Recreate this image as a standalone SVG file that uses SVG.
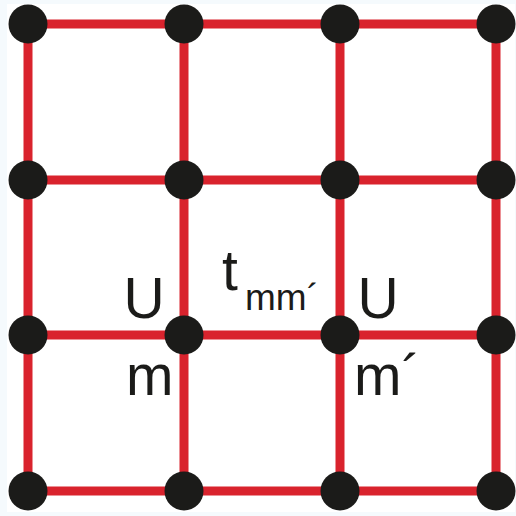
<svg xmlns="http://www.w3.org/2000/svg" width="516" height="516" viewBox="0 0 516 516">
<style>
.e{stroke:#d9232d;stroke-width:9;fill:none}
.n{fill:#1b1b19}
.t{font-family:"Liberation Sans",Arial,sans-serif;fill:#1b1b19}
</style>
<rect width="516" height="516" fill="#f5fafd"/>
<rect x="7" y="4" width="508" height="508" fill="#ffffff"/>
<g id="connectors">
<path class="e" d="M28,24H496M28,180H496M28,335H496M28,491H496M28,24V491M184,24V491M340,24V491M496,24V491"/>
</g>
<g id="n11"><circle class="n" cx="28" cy="24" r="19.5"/></g>
<g id="n12"><circle class="n" cx="184" cy="24" r="19.5"/></g>
<g id="n13"><circle class="n" cx="340" cy="24" r="19.5"/></g>
<g id="n14"><circle class="n" cx="496" cy="24" r="19.5"/></g>
<g id="n21"><circle class="n" cx="28" cy="180" r="19.5"/></g>
<g id="n22"><circle class="n" cx="184" cy="180" r="19.5"/></g>
<g id="n23"><circle class="n" cx="340" cy="180" r="19.5"/></g>
<g id="n24"><circle class="n" cx="496" cy="180" r="19.5"/></g>
<g id="n31"><circle class="n" cx="28" cy="335" r="19.5"/></g>
<g id="n32"><circle class="n" cx="184" cy="335" r="19.5"/></g>
<g id="n33"><circle class="n" cx="340" cy="335" r="19.5"/></g>
<g id="n34"><circle class="n" cx="496" cy="335" r="19.5"/></g>
<g id="n41"><circle class="n" cx="28" cy="491" r="19.5"/></g>
<g id="n42"><circle class="n" cx="184" cy="491" r="19.5"/></g>
<g id="n43"><circle class="n" cx="340" cy="491" r="19.5"/></g>
<g id="n44"><circle class="n" cx="496" cy="491" r="19.5"/></g>
<g id="labels">
<text class="t" x="123.5" y="318" font-size="57">U</text>
<text class="t" x="126" y="395" font-size="57">m</text>
<text class="t" x="357.5" y="318" font-size="57">U</text>
<text class="t" x="354" y="395" font-size="57">m´</text>
<text class="t" x="222" y="290" font-size="57">t</text>
<text class="t" x="245" y="310" font-size="37">mm´</text>
</g>
</svg>
